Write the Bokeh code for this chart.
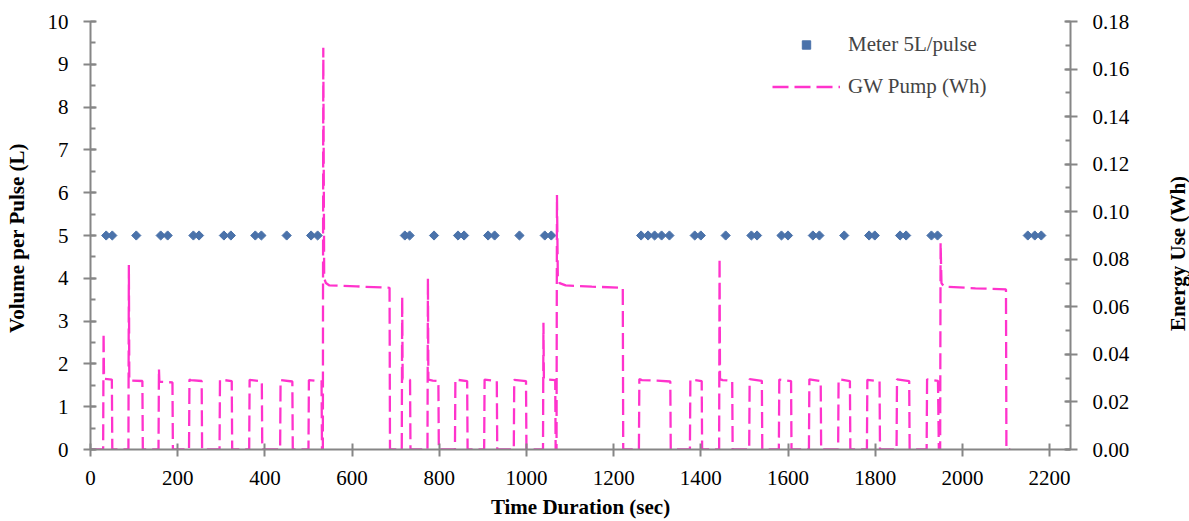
import math
from bokeh.plotting import figure
from bokeh.layouts import row
from bokeh.models import (Range1d, LinearAxis, SingleIntervalTicker, NumeralTickFormatter,
                          Legend, LegendItem, Label)
from bokeh.embed import file_html
from bokeh.resources import INLINE

# ---------------- data ----------------
meter_t = [36, 50, 105, 161, 177, 236, 249, 306, 322, 378, 392, 450, 506, 521,
           721, 732, 788, 843, 857, 912, 927, 984, 1042, 1057,
           1263, 1279, 1294, 1310, 1328, 1386, 1400, 1457, 1516, 1529, 1585, 1600,
           1657, 1672, 1729, 1786, 1799, 1857, 1871, 1929, 1943, 2150, 2166, 2181]
meter_vol = [5, 5, 5, 5, 5, 5, 5, 5, 5, 5, 5, 5, 5, 5,
             5, 5, 5, 5, 5, 5, 5, 5, 5, 5,
             5, 5, 5, 5, 5, 5, 5, 5, 5, 5, 5, 5,
             5, 5, 5, 5, 5, 5, 5, 5, 5, 5, 5, 5]

pump_t = [0, 29, 30, 31, 49, 50,
          87, 88, 89, 119, 120,
          156, 157, 158, 188, 189,
          226, 227, 230, 255, 256,
          296, 297, 324, 325,
          364, 365, 393, 394,
          435, 436, 463, 464,
          500, 501, 530, 531,
          533, 534, 536, 540, 548, 610, 686, 687,
          714, 715, 716, 733, 734,
          773, 774, 775, 785, 798, 799,
          836, 837, 841, 864, 865,
          903, 904, 932, 933,
          971, 972, 999, 1000,
          1038, 1039, 1040, 1066, 1067,
          1069, 1070, 1072, 1076, 1090, 1150, 1221, 1222,
          1258, 1259, 1265, 1300, 1330, 1331,
          1375, 1376, 1402, 1403,
          1442, 1443, 1444, 1450, 1472, 1473,
          1511, 1512, 1540, 1541,
          1579, 1580, 1607, 1608,
          1648, 1649, 1675, 1676,
          1715, 1716, 1742, 1743,
          1781, 1782, 1810, 1811,
          1849, 1850, 1878, 1879,
          1918, 1919, 1944, 1946,
          1949, 1950, 1952, 1958, 2030, 2100, 2101, 2110]
pump_wh = [0, 0, 0.049, 0.0297, 0.0294, 0,
           0, 0.0776, 0.0290, 0.0288, 0,
           0, 0.0340, 0.0285, 0.0282, 0,
           0, 0.0294, 0.0292, 0.0288, 0,
           0, 0.0294, 0.0288, 0,
           0, 0.0293, 0.0287, 0,
           0, 0.0292, 0.0286, 0,
           0, 0.0292, 0.0286, 0,
           0, 0.169, 0.072, 0.0700, 0.0690, 0.0686, 0.0680, 0,
           0, 0.0644, 0.0297, 0.0293, 0,
           0, 0.072, 0.0294, 0.0290, 0.0288, 0,
           0, 0.0295, 0.0293, 0.0288, 0,
           0, 0.0294, 0.0288, 0,
           0, 0.0293, 0.0288, 0,
           0, 0.0533, 0.0295, 0.0292, 0,
           0, 0.107, 0.0720, 0.0700, 0.0690, 0.0685, 0.0680, 0,
           0, 0.0296, 0.0292, 0.0290, 0.0286, 0,
           0, 0.0295, 0.0288, 0,
           0, 0.0805, 0.0296, 0.0292, 0.0289, 0,
           0, 0.0296, 0.0289, 0,
           0, 0.0294, 0.0288, 0,
           0, 0.0295, 0.0288, 0,
           0, 0.0296, 0.0288, 0,
           0, 0.0293, 0.0287, 0,
           0, 0.0295, 0.0288, 0,
           0, 0.0295, 0.0289, 0,
           0, 0.087, 0.0700, 0.0685, 0.0678, 0.0673, 0, 0]

x_title = "Time Duration (sec)"
y_title = "Volume  per Pulse (L)"
y2_title = "Energy Use (Wh)"

FONT = "Liberation Serif"
FS = "21px"
AXIS_GRAY = "#868686"
PINK = "#FF33CC"
BLUE = "#4A72AA"

p = figure(width=1159, height=521,
           x_range=Range1d(0, 2248), y_range=Range1d(0, 10),
           output_backend="svg", toolbar_location=None,
           min_border_left=90, min_border_right=89,
           min_border_top=21, min_border_bottom=72)
p.extra_y_ranges = {"energy": Range1d(0, 0.18)}
p.outline_line_color = None
p.grid.visible = False
p.background_fill_color = "white"
p.border_fill_color = "white"

r_meter = p.scatter(meter_t, meter_vol, marker="square", angle=math.pi / 4, size=6.5,
                    fill_color=BLUE, line_color=BLUE)
r_pump = p.line(pump_t, pump_wh, y_range_name="energy", line_color=PINK,
                line_width=2.3, line_dash="16 6")

yr = LinearAxis(y_range_name="energy",
                ticker=SingleIntervalTicker(interval=0.02, num_minor_ticks=2),
                formatter=NumeralTickFormatter(format="0.00"))
p.add_layout(yr, "right")

p.xaxis.ticker = SingleIntervalTicker(interval=200, num_minor_ticks=0)
p.yaxis[0].ticker = SingleIntervalTicker(interval=1, num_minor_ticks=2)
p.xaxis.axis_label = x_title
p.yaxis[0].axis_label = y_title

for ax in [p.xaxis[0], p.yaxis[0], yr]:
    ax.axis_line_color = AXIS_GRAY
    ax.axis_line_width = 2
    ax.major_tick_line_color = AXIS_GRAY
    ax.major_tick_line_width = 2
    ax.minor_tick_line_color = AXIS_GRAY
    ax.minor_tick_line_width = 2
    ax.major_tick_in = 6
    ax.major_tick_out = 7
    ax.minor_tick_in = 5
    ax.minor_tick_out = 0
    ax.major_label_text_font = FONT
    ax.major_label_text_font_size = FS
    ax.major_label_text_color = "black"
    ax.axis_label_text_font = FONT
    ax.axis_label_text_font_size = FS
    ax.axis_label_text_font_style = "bold"
    ax.axis_label_text_color = "black"
    ax.major_label_standoff = 15

p.xaxis.major_label_standoff = 14
p.xaxis.axis_label_standoff = 7
p.yaxis[0].axis_label_standoff = 16

legend = Legend(items=[LegendItem(label="Meter 5L/pulse", renderers=[r_meter]),
                       LegendItem(label="GW Pump (Wh)", renderers=[r_pump])],
                location=(682, 350))
legend.border_line_color = None
legend.background_fill_alpha = 0
legend.label_text_font = FONT
legend.label_text_font_size = FS
legend.glyph_width = 68
legend.glyph_height = 21
legend.label_height = 21
legend.spacing = 17
legend.padding = 0
legend.margin = 0
legend.label_standoff = 8
p.add_layout(legend)

# narrow strip on the right that carries the secondary axis title (reads bottom-to-top)
p2 = figure(width=30, height=521, x_range=Range1d(0, 1), y_range=Range1d(0, 1),
            output_backend="svg", toolbar_location=None,
            x_axis_location=None, y_axis_location=None,
            min_border_left=0, min_border_right=0, min_border_top=0, min_border_bottom=0)
p2.outline_line_color = None
p2.grid.visible = False
p2.border_fill_color = "white"
p2.background_fill_color = "white"
p2.add_layout(Label(x=18, y=196, x_units="screen", y_units="screen", text=y2_title,
                    angle=math.pi / 2, text_align="center", text_baseline="middle",
                    text_font=FONT, text_font_size=FS, text_font_style="bold",
                    text_color="black"))

open("out.html", "w").write(file_html(row(p, p2), INLINE))
